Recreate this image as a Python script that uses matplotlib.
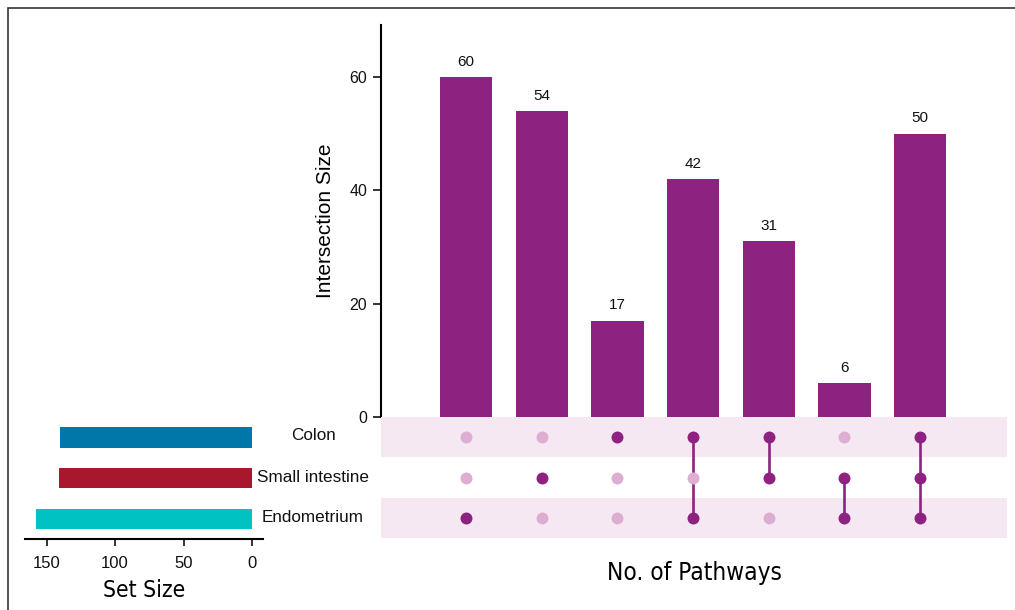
import matplotlib
matplotlib.use("Agg")
import matplotlib.pyplot as plt
from matplotlib.patches import Rectangle
import numpy as np

# Sets (top to bottom in the matrix)
set_names = ["Colon", "Small intestine", "Endometrium"]
set_colors = ["#0077A8", "#A8172E", "#00C2C2"]

# Intersections: membership per set (Colon, Small intestine, Endometrium)
membership = [
    [0, 0, 1],
    [0, 1, 0],
    [1, 0, 0],
    [1, 0, 1],
    [1, 1, 0],
    [0, 1, 1],
    [1, 1, 1],
]
intersection_sizes = [60, 54, 17, 42, 31, 6, 50]

# Set sizes follow from the intersections
set_sizes = [sum(c for m, c in zip(membership, intersection_sizes) if m[i])
             for i in range(len(set_names))]

purple = "#8E2280"
light_dot = "#DDAED2"
band = "#F5E8F2"

plt.rcParams["font.family"] = ["Liberation Sans", "DejaVu Sans"]
narrow = dict(family=["Liberation Sans Narrow", "DejaVu Sans"], stretch="condensed")

W, H = 1015, 610
fig = plt.figure(figsize=(W / 100, H / 100), dpi=100)


def fx(px):
    return px / W


def fy(py):
    return 1 - py / H


n = len(intersection_sizes)
xs = np.arange(n)
x_lo, x_hi = -1.123, 7.147

# Intersection size bars
ax_bar = fig.add_axes([fx(381), fy(417), fx(1007) - fx(381), fy(25) - fy(417)])
ax_bar.bar(xs, intersection_sizes, width=0.69, color=purple)
for x, v in zip(xs, intersection_sizes):
    ax_bar.annotate(str(v), (x, v), xytext=(0, 6), textcoords="offset points",
                    ha="center", va="bottom", fontsize=11, color="#111111")
ax_bar.set_xlim(x_lo, x_hi)
ax_bar.set_ylim(0, 69.2)
ax_bar.set_yticks([0, 20, 40, 60])
ax_bar.set_xticks([])
for s in ["top", "right", "bottom"]:
    ax_bar.spines[s].set_visible(False)
ax_bar.spines["left"].set_linewidth(1.5)
ax_bar.tick_params(axis="y", labelsize=11.5, length=6, width=1.2, pad=4,
                   colors="#111111")
ax_bar.set_ylabel("Intersection Size", fontsize=15, labelpad=10)

# Membership matrix
ax_mat = fig.add_axes([fx(381), fy(538), fx(1007) - fx(381), fy(417) - fy(538)])
ax_mat.set_xlim(x_lo, x_hi)
ax_mat.set_ylim(len(set_names) - 0.5, -0.5)
for r in range(len(set_names)):
    if r % 2 == 0:
        ax_mat.axhspan(r - 0.5, r + 0.5, color=band, lw=0, zorder=0)
for x, m in zip(xs, membership):
    rows = [r for r, v in enumerate(m) if v]
    if len(rows) > 1:
        ax_mat.plot([x, x], [min(rows), max(rows)], color=purple, lw=1.9,
                    zorder=2, solid_capstyle="butt")
    for r, v in enumerate(m):
        ax_mat.plot(x, r, "o", ms=8.6, mec="none",
                    color=purple if v else light_dot, zorder=3)
ax_mat.axis("off")

# Set size bars
ax_set = fig.add_axes([fx(25), fy(539), fx(263) - fx(25), fy(417) - fy(539)])
ax_set.barh(np.arange(len(set_names)), set_sizes, height=0.5, color=set_colors)
ax_set.set_ylim(len(set_names) - 0.5, -0.5)
ax_set.set_xlim(165.7, -8)
ax_set.set_xticks([150, 100, 50, 0])
ax_set.set_yticks([])
for s in ["top", "right", "left"]:
    ax_set.spines[s].set_visible(False)
ax_set.spines["bottom"].set_linewidth(1.5)
ax_set.tick_params(axis="x", labelsize=12, length=5, width=1.2, pad=7,
                   colors="#111111")
ax_set.set_xlabel("Set Size", fontsize=16.5, labelpad=6, **narrow)

# Set names between the two panels
for r, name in enumerate(set_names):
    fig.text(fx(313), fy(436 + 41 * r), name, ha="center", va="center",
             fontsize=12.3, color="#111111")

fig.text(fx(694), fy(573), "No. of Pathways", ha="center", va="center",
         fontsize=17.5, **narrow)

# Frame around the figure
fig.patches.append(Rectangle((fx(8), -0.1), 1.2, fy(8) + 0.1, transform=fig.transFigure,
                             fill=False, ec="#333333", lw=1.2))

fig.savefig("out.png", dpi=100)
